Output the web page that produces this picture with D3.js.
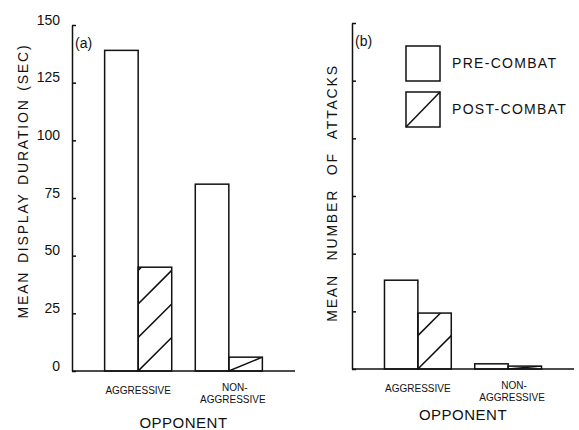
<!DOCTYPE html>
<html>
<head>
<meta charset="utf-8">
<script src="https://cdn.jsdelivr.net/npm/d3@7"></script>
<style>
  body { margin: 0; background: #fff; }
  svg text { font-family: "Liberation Sans", Arial, sans-serif; fill: #111; }
</style>
</head>
<body>
<div class="container"></div>
<script>
// data
const opponents = ["AGGRESSIVE", "NON-AGGRESSIVE"]
const conditions = ["PRE-COMBAT", "POST-COMBAT"]
const displayPre = [139, 81]
const displayPost = [45, 6]
const attacksPre = [1.54, 0.09]
const attacksPost = [0.97, 0.05]
const displayTicks = [0, 25, 50, 75, 100, 125, 150]
const attackTicks = [0, 1, 2, 3, 4, 5, 6]

const W = 579, H = 430

const svg = d3.select(".container")
              .append("svg")
              .attr("width", W)
              .attr("height", H)

let clipId = 0

const drawPanel = (opt) => {
    const g = svg.append("g")

    const x = d3.scaleBand()
                .domain(opponents)
                .range([opt.x0, opt.x1])
                .paddingInner(0.26)
                .paddingOuter(0.36)
    const xs = d3.scaleBand()
                 .domain(conditions)
                 .range([0, x.bandwidth()])
    const y = d3.scaleLinear()
                .domain([0, d3.max(opt.ticks)])
                .range([opt.bottom, opt.top])

    const rows = []
    opponents.forEach((o, i) => {
        rows.push({opp: o, cond: conditions[0], v: opt.pre[i]})
        rows.push({opp: o, cond: conditions[1], v: opt.post[i]})
    })

    // bars
    rows.forEach((d) => {
        const bx = x(d.opp) + xs(d.cond)
        const bw = xs.bandwidth()
        const by = y(d.v)
        const bh = y(0) - by
        if (d.cond === conditions[1]) {
            const id = "clip" + (clipId++)
            g.append("clipPath").attr("id", id)
             .append("rect").attr("x", bx).attr("y", by).attr("width", bw).attr("height", bh)
            const hg = g.append("g").attr("clip-path", "url(#" + id + ")")
            if (bh < bw) {
                hg.append("line")
                  .attr("x1", bx).attr("y1", y(0))
                  .attr("x2", bx + bw).attr("y2", by)
                  .attr("stroke", "#111").attr("stroke-width", 1.5)
            } else {
                for (let k = 0; y(0) - k * bw > by; k++) {
                    hg.append("line")
                      .attr("x1", bx).attr("y1", y(0) - k * bw)
                      .attr("x2", bx + bw).attr("y2", y(0) - (k + 1) * bw)
                      .attr("stroke", "#111").attr("stroke-width", 1.5)
                }
            }
        }
        g.append("rect")
         .attr("x", bx).attr("y", by)
         .attr("width", bw).attr("height", bh)
         .attr("fill", "none")
         .attr("stroke", "#111")
         .attr("stroke-width", 1.5)
    })

    // y axis
    const yAxis = d3.axisLeft(y)
                    .tickValues(opt.ticks)
                    .tickSizeInner(-4)
                    .tickSizeOuter(0)
                    .tickPadding(12)
                    .tickFormat(opt.labels ? d3.format("d") : "")
    const ay = g.append("g")
                .attr("transform", "translate(" + opt.x0 + ",0)")
                .call(yAxis)
    ay.select(".domain").attr("stroke", "#111").attr("stroke-width", 1.5)
    ay.selectAll(".tick line").attr("stroke", "#111").attr("stroke-width", 1.5)
    ay.selectAll(".tick text")
      .attr("dy", "-0.05em")
      .style("font-size", "14px")
      .style("font-family", "'Liberation Sans', Arial, sans-serif")
      .attr("fill", "#111")

    // baseline
    g.append("line")
     .attr("x1", opt.x0).attr("y1", y(0))
     .attr("x2", opt.x1).attr("y2", y(0))
     .attr("stroke", "#111").attr("stroke-width", 1.5)

    // x labels
    opponents.forEach((o) => {
        const cx = x(o) + x.bandwidth() / 2
        const t = g.append("text")
                   .attr("text-anchor", "middle")
                   .style("font-size", "10px")
        if (o.startsWith("NON-")) {
            t.append("tspan").attr("x", cx + 6).attr("y", y(0) + 20).text("NON-")
            t.append("tspan").attr("x", cx + 4).attr("y", y(0) + 32).text("AGGRESSIVE")
        } else {
            t.attr("x", cx).attr("y", y(0) + 23).text(o)
        }
    })

    g.append("text")
     .attr("x", (x(opponents[0]) + x(opponents[1]) + x.bandwidth()) / 2)
     .attr("y", y(0) + opt.oppDy)
     .attr("text-anchor", "middle")
     .style("font-size", "15px")
     .style("letter-spacing", "0.5px")
     .text("OPPONENT")

    g.append("text")
     .attr("transform", "translate(" + opt.labelX + "," + opt.labelY + ") rotate(-90)")
     .attr("text-anchor", "middle")
     .style("font-size", "14px")
     .style("letter-spacing", opt.ls)
     .style("word-spacing", opt.ws)
     .text(opt.ylabel)

    g.append("text")
     .attr("x", opt.x0 + 3).attr("y", opt.top + 23)
     .style("font-size", "14px")
     .text(opt.tag)

    return {x, xs, y}
}

drawPanel({
    x0: 72, x1: 295, top: 25, bottom: 371,
    pre: displayPre, post: displayPost, ticks: displayTicks, labels: true,
    ylabel: "MEAN DISPLAY DURATION (SEC)", labelX: 28, labelY: 181, ls: "1.8px", ws: "2px",
    tag: "(a)", oppDy: 57
})

drawPanel({
    x0: 352, x1: 574, top: 23, bottom: 369,
    pre: attacksPre, post: attacksPost, ticks: attackTicks, labels: false,
    ylabel: "MEAN NUMBER OF ATTACKS", labelX: 337, labelY: 193, ls: "1.8px", ws: "8px",
    tag: "(b)", oppDy: 51
})

// legend
const legend = svg.append("g").attr("transform", "translate(406,46)")
conditions.forEach((c, i) => {
    const lg = legend.append("g").attr("transform", "translate(0," + (i * 46) + ")")
    lg.append("rect")
      .attr("width", 34).attr("height", 35)
      .attr("fill", "none").attr("stroke", "#111").attr("stroke-width", 1.5)
    if (i === 1) {
        lg.append("line")
          .attr("x1", 0).attr("y1", 35).attr("x2", 34).attr("y2", 0)
          .attr("stroke", "#111").attr("stroke-width", 1.5)
    }
    lg.append("text")
      .attr("x", 46).attr("y", 22)
      .style("font-size", "14px")
      .style("letter-spacing", "1.3px")
      .text(c)
})
</script>
</body>
</html>
